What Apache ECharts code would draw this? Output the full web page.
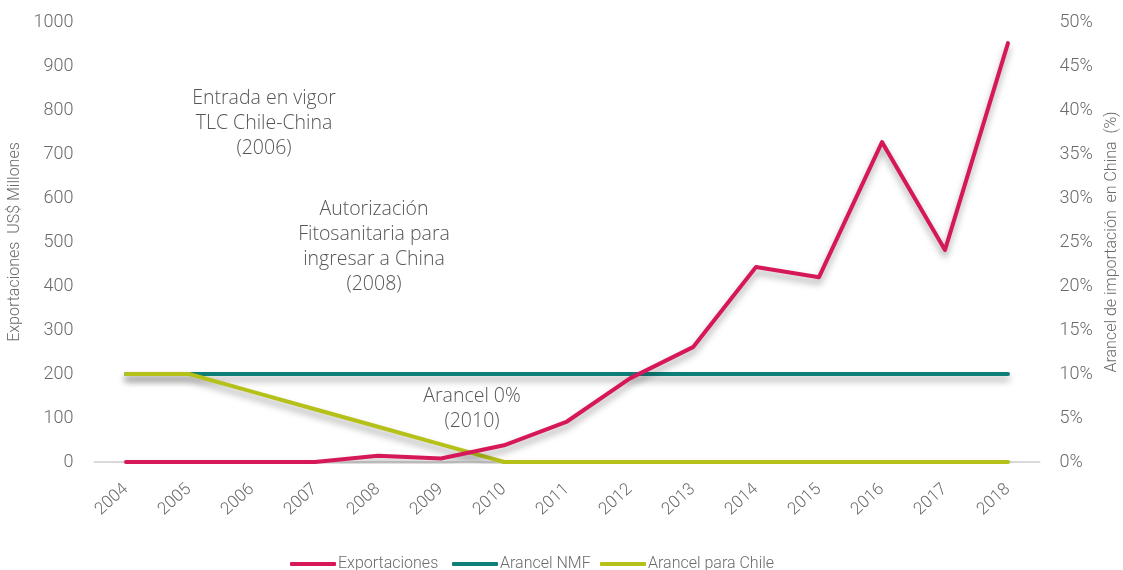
<!DOCTYPE html>
<html>
<head>
<meta charset="utf-8">
<script src="https://cdn.jsdelivr.net/npm/echarts@6/dist/echarts.min.js"></script>
<style>
  html, body { margin: 0; padding: 0; background: #fff; }
  #chart { width: 1123px; height: 570px; }
</style>
</head>
<body>
<div id="chart"></div>
<script>
// data
var years = ["2004","2005","2006","2007","2008","2009","2010","2011","2012","2013","2014","2015","2016","2017","2018"];
var exportaciones = [0, 0, 0, 0, 14, 8, 38, 92, 190, 261, 443, 420, 727, 482, 952];
var arancelNMF = [10, 10, 10, 10, 10, 10, 10, 10, 10, 10, 10, 10, 10, 10, 10];
var arancelChile = [10, 10, 8, 6, 4, 2, 0, 0, 0, 0, 0, 0, 0, 0, 0];
var leftTicks = [0, 1000, 100];
var rightTicks = [0, 50, 5];
var seriesNames = ["Exportaciones", "Arancel NMF", "Arancel para Chile"];
var seriesColors = ["#d6185a", "#0e7e78", "#b5c118"];

var FONT = "Roboto, 'Noto Sans', sans-serif";
var GRAY = "#6b6b6b";

function lineSeries(idx, data, axisIdx, z) {
    return {
        name: seriesNames[idx],
        type: "line",
        yAxisIndex: axisIdx,
        data: data,
        symbol: "none",
        z: z,
        lineStyle: {
            color: seriesColors[idx],
            width: 4,
            cap: "round",
            join: "round",
            shadowColor: "rgba(0,0,0,0.35)",
            shadowBlur: 7,
            shadowOffsetY: 5
        },
        itemStyle: { color: seriesColors[idx] }
    };
}

function legendAt(left, idx) {
    return {
        left: left,
        top: 551,
        itemWidth: 46,
        itemHeight: 4,
        itemGap: 0,
        icon: "roundRect",
        textStyle: { fontFamily: FONT, fontWeight: 300, fontSize: 16, color: GRAY, padding: [0, 0, 0, -3] },
        data: [seriesNames[idx]]
    };
}

function note(x, y, text) {
    return {
        type: "text",
        x: x, y: y,
        style: {
            text: text,
            fill: "#555",
            font: "300 19.5px 'Open Sans', 'Noto Sans', sans-serif",
            align: "center",
            lineHeight: 25
        }
    };
}

var myChart = echarts.init(document.getElementById("chart"));
var option = {
    animation: false,
    grid: { left: 94.5, right: 83.5, top: 22, bottom: 108, containLabel: false, outerBoundsMode: "none" },
    legend: [legendAt(285, 0), legendAt(447, 1), legendAt(595, 2)],
    xAxis: {
        type: "category",
        boundaryGap: true,
        data: years,
        axisLine: { lineStyle: { color: "#d9d9d9", width: 2 } },
        axisTick: { show: false },
        axisLabel: {
            rotate: 42,
            color: GRAY,
            fontFamily: FONT,
            fontWeight: 300,
            fontSize: 17,
            margin: 25
        }
    },
    yAxis: [
        {
            type: "value",
            min: leftTicks[0], max: leftTicks[1], interval: leftTicks[2],
            name: "Exportaciones  US$ Millones",
            nameLocation: "middle",
            nameGap: 69,
            nameTextStyle: { color: GRAY, fontFamily: FONT, fontWeight: 300, fontSize: 16 },
            axisLine: { show: false },
            axisTick: { show: false },
            splitLine: { show: false },
            axisLabel: {
                color: GRAY, fontFamily: FONT, fontWeight: 300, fontSize: 18, margin: 21,
                formatter: function (v) { return String(v); }
            }
        },
        {
            type: "value",
            min: rightTicks[0], max: rightTicks[1], interval: rightTicks[2],
            name: "Arancel de importación  en China  (%)",
            nameLocation: "middle",
            nameGap: 64,
            nameRotate: 90,
            nameTextStyle: { color: GRAY, fontFamily: FONT, fontWeight: 300, fontSize: 16 },
            axisLine: { show: false },
            axisTick: { show: false },
            splitLine: { show: false },
            axisLabel: {
                color: GRAY, fontFamily: FONT, fontWeight: 300, fontSize: 18, margin: 20,
                formatter: function (v) { return v + "%"; }
            }
        }
    ],
    series: [
        lineSeries(0, exportaciones, 0, 4),
        lineSeries(1, arancelNMF, 1, 2),
        lineSeries(2, arancelChile, 1, 3)
    ],
    graphic: [
        note(264, 86, "Entrada en vigor\nTLC Chile-China\n(2006)"),
        note(374, 197, "Autorización\nFitosanitaria para\ningresar a China\n(2008)"),
        note(472, 384, "Arancel 0%\n(2010)")
    ]
};
myChart.setOption(option);
</script>
</body>
</html>
